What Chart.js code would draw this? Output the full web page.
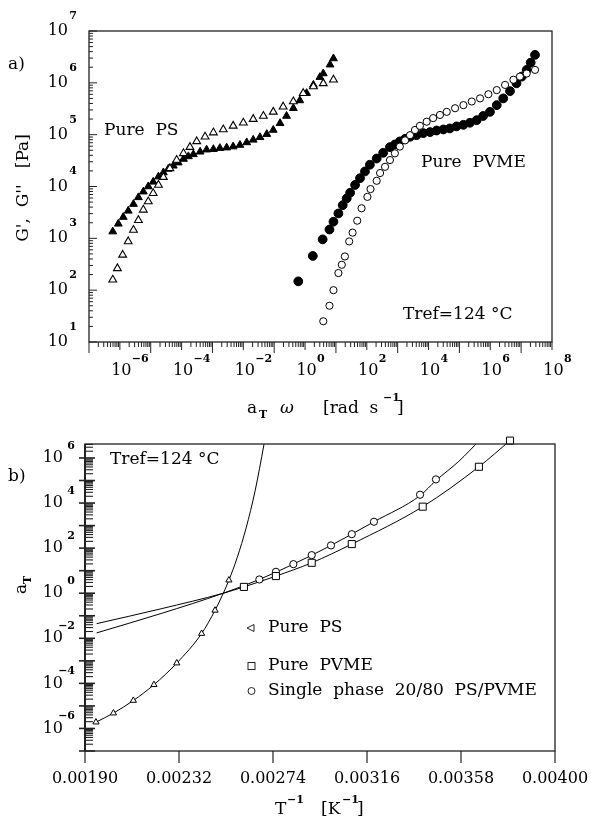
<!DOCTYPE html>
<html>
<head>
<meta charset="utf-8">
<script src="https://cdn.jsdelivr.net/npm/chart.js@4"></script>
<style>
body { margin: 0; background: #fff; }
canvas { display: block; }
</style>
</head>
<body>
<canvas id="chartA" width="591" height="430"></canvas>
<canvas id="chartB" width="591" height="393"></canvas>
<script>
var SERIF = "'DejaVu Serif', 'Liberation Serif', serif";

// ---- a) master curves, log10 values
// Pure PS, G' (filled triangles)
var psLogWp = [-6.23, -6.05, -5.89, -5.73, -5.56, -5.40, -5.24, -5.08, -4.92, -4.75, -4.59, -4.43, -4.27, -4.11, -3.94, -3.78, -3.62, -3.40, -3.19, -2.97, -2.76, -2.54, -2.33, -2.11, -1.89, -1.68, -1.46, -1.24, -1.03, -0.81, -0.60, -0.38, -0.17, 0.05, 0.27, 0.48, 0.59, 0.81, 0.92];
var psLogGp = [3.13, 3.28, 3.41, 3.53, 3.66, 3.79, 3.90, 4.00, 4.09, 4.19, 4.27, 4.34, 4.40, 4.46, 4.53, 4.58, 4.62, 4.67, 4.71, 4.72, 4.74, 4.75, 4.77, 4.80, 4.85, 4.90, 4.95, 5.01, 5.09, 5.22, 5.36, 5.51, 5.66, 5.80, 5.96, 6.11, 6.18, 6.35, 6.47];
// Pure PS, G'' (open triangles)
var psLogWpp = [-6.23, -6.08, -5.91, -5.73, -5.56, -5.40, -5.24, -5.08, -4.92, -4.75, -4.59, -4.38, -4.16, -3.94, -3.73, -3.51, -3.24, -2.97, -2.65, -2.33, -2.00, -1.68, -1.35, -1.03, -0.71, -0.38, -0.06, 0.27, 0.59, 0.92];
var psLogGpp = [2.20, 2.42, 2.68, 2.94, 3.16, 3.35, 3.55, 3.71, 3.87, 4.03, 4.18, 4.35, 4.51, 4.64, 4.76, 4.87, 4.96, 5.04, 5.10, 5.17, 5.23, 5.30, 5.36, 5.44, 5.54, 5.64, 5.80, 5.93, 5.99, 6.06];
// Pure PVME, G' (filled circles)
var pvLogWp = [-0.22, 0.25, 0.57, 0.79, 0.92, 1.08, 1.22, 1.35, 1.46, 1.62, 1.78, 1.94, 2.10, 2.32, 2.53, 2.75, 2.91, 3.07, 3.24, 3.40, 3.61, 3.83, 4.05, 4.26, 4.48, 4.69, 4.91, 5.13, 5.34, 5.56, 5.77, 5.99, 6.21, 6.42, 6.64, 6.85, 7.02, 7.18, 7.31, 7.45];
var pvLogGp = [2.17, 2.66, 2.98, 3.17, 3.32, 3.48, 3.64, 3.77, 3.88, 4.03, 4.16, 4.29, 4.42, 4.54, 4.65, 4.76, 4.81, 4.87, 4.92, 4.96, 4.99, 5.03, 5.05, 5.08, 5.10, 5.12, 5.16, 5.19, 5.23, 5.28, 5.36, 5.44, 5.57, 5.70, 5.84, 5.99, 6.12, 6.25, 6.39, 6.54];
// Pure PVME, G'' (open circles)
var pvLogWpp = [0.59, 0.79, 0.92, 1.08, 1.19, 1.29, 1.43, 1.54, 1.69, 1.83, 2.02, 2.12, 2.32, 2.43, 2.59, 2.75, 2.91, 3.07, 3.24, 3.40, 3.56, 3.72, 3.94, 4.15, 4.37, 4.59, 4.86, 5.13, 5.40, 5.67, 5.94, 6.21, 6.48, 6.75, 6.96, 7.18, 7.45];
var pvLogGpp = [1.40, 1.70, 2.00, 2.33, 2.49, 2.65, 2.94, 3.11, 3.34, 3.58, 3.80, 3.95, 4.11, 4.26, 4.38, 4.51, 4.64, 4.77, 4.89, 4.99, 5.09, 5.17, 5.25, 5.32, 5.38, 5.44, 5.51, 5.57, 5.64, 5.70, 5.78, 5.86, 5.96, 6.06, 6.12, 6.18, 6.25];

// ---- b) shift factors: 1/T [1/K] and log10 aT
var psInvT = [0.001949, 0.002027, 0.002116, 0.002208, 0.002310, 0.002421, 0.002481, 0.002543];
var psLogAT = [-5.72, -5.32, -4.76, -4.06, -3.10, -1.79, -0.76, 0.58];
var pvInvT = [0.002610, 0.002753, 0.002913, 0.003092, 0.003409, 0.003660, 0.003799];
var pvLogAT = [0.28, 0.76, 1.35, 2.18, 3.84, 5.61, 6.77];
var blInvT = [0.002679, 0.002753, 0.002831, 0.002913, 0.002999, 0.003092, 0.003191, 0.003397, 0.003468];
var blLogAT = [0.61, 0.95, 1.29, 1.69, 2.12, 2.62, 3.17, 4.37, 5.05];
// fitted curves
var psFitInvT = [0.001949, 0.002027, 0.002116, 0.002208, 0.002310, 0.002421, 0.002481, 0.002518, 0.002543, 0.002580, 0.002620, 0.002660, 0.002700, 0.002712];
var psFitLog = [-5.72, -5.32, -4.76, -4.06, -3.10, -1.79, -0.76, 0, 0.58, 1.58, 2.90, 4.54, 6.62, 7.3];
var pvFitInvT = [0.001952, 0.002240, 0.002518, 0.002610, 0.002753, 0.002913, 0.003092, 0.003409, 0.003660, 0.003799];
var pvFitLog = [-1.35, -0.69, 0, 0.28, 0.76, 1.35, 2.18, 3.84, 5.61, 6.77];
var blFitInvT = [0.001952, 0.002240, 0.002518, 0.002679, 0.002831, 0.002999, 0.003191, 0.003397, 0.003468, 0.003570, 0.003665];
var blFitLog = [-1.76, -0.90, 0, 0.61, 1.29, 2.12, 3.17, 4.33, 5.0, 5.85, 6.8];

var xTicksB = [0.00190, 0.00232, 0.00274, 0.00316, 0.00358, 0.00400];

function pts(xs, ys, logX) {
  return xs.map(function (x, i) {
    return { x: logX ? Math.pow(10, x) : x, y: Math.pow(10, ys[i]) };
  });
}

function line(ctx, x1, y1, x2, y2) {
  ctx.beginPath(); ctx.moveTo(x1, y1); ctx.lineTo(x2, y2); ctx.stroke();
}
function expText(e) { return e < 0 ? '\u2212' + (-e) : String(e); }
function txt(ctx, s, x, y, font, align) {
  ctx.font = font; ctx.textAlign = align || 'left'; ctx.textBaseline = 'middle';
  ctx.fillText(s, x, y);
}
var F = '17px ' + SERIF, FT = '16px ' + SERIF, FS = 'bold 11px ' + SERIF;

// ---- panel a) frame, ticks, labels
var frameA = {
  id: 'frameA',
  afterDraw: function (chart) {
    var ctx = chart.ctx, a = chart.chartArea, xs = chart.scales.x, ys = chart.scales.y;
    ctx.save();
    ctx.strokeStyle = '#222'; ctx.fillStyle = '#000'; ctx.lineWidth = 1.3;
    ctx.strokeRect(a.left, a.top, a.right - a.left, a.bottom - a.top);
    ctx.lineWidth = 1;
    for (var d = 1; d <= 7; d++) {
      for (var m = 1; m <= 9; m++) {
        if (d == 7 && m > 1) break;
        var py = ys.getPixelForValue(m * Math.pow(10, d));
        line(ctx, a.left, py, a.left + (m == 1 ? 8 : 4), py);
      }
      txt(ctx, '10', 68, ys.getPixelForValue(Math.pow(10, d)), FT, 'right');
      txt(ctx, expText(d), 77, ys.getPixelForValue(Math.pow(10, d)) - 15, FS, 'right');
    }
    for (d = -7; d <= 8; d++) {
      for (m = 1; m <= 9; m++) {
        if (d == 8 && m > 1) break;
        var px = xs.getPixelForValue(m * Math.pow(10, d));
        line(ctx, px, a.bottom, px, a.bottom + (m == 1 ? (d % 2 ? 11 : 8) : 5));
      }
      if (d % 2 == 0) {
        px = xs.getPixelForValue(Math.pow(10, d));
        txt(ctx, '10', px + 1.5, 371, FT, 'center');
        txt(ctx, expText(d), px + 12, 359, FS, 'left');
      }
    }
    // titles and notes
    txt(ctx, 'a)', 8, 65, F);
    txt(ctx, 'Pure  PS', 104, 131, F);
    txt(ctx, 'Pure  PVME', 421, 163, F);
    txt(ctx, 'Tref=124 \u00b0C', 403, 315, F);
    txt(ctx, 'a', 247, 409, F);
    txt(ctx, 'T', 259, 415, FS);
    txt(ctx, '\u03c9', 280, 409, 'italic 17px ' + SERIF);
    txt(ctx, '[rad  s', 323, 409, F);
    txt(ctx, '\u22121', 383, 398, FS);
    txt(ctx, ']', 397, 409, F);
    ctx.translate(24, 188); ctx.rotate(-Math.PI / 2);
    txt(ctx, "G',  G''   [Pa]", 0, 0, F, 'center');
    ctx.restore();
  }
};

// ---- panel b) frame, ticks, labels, legend
var frameB = {
  id: 'frameB',
  afterDraw: function (chart) {
    var ctx = chart.ctx, a = chart.chartArea, xs = chart.scales.x, ys = chart.scales.y;
    ctx.save();
    ctx.strokeStyle = '#222'; ctx.fillStyle = '#000'; ctx.lineWidth = 1.3;
    ctx.strokeRect(a.left, a.top, a.right - a.left, a.bottom - a.top);
    ctx.lineWidth = 2;
    line(ctx, a.left, a.top, a.left, a.bottom);
    for (var d = -7; d <= 6; d++) {
      for (var m = 1; m <= 9; m++) {
        var v = m * Math.pow(10, d);
        if (v > ys.max) break;
        var py = ys.getPixelForValue(v);
        ctx.lineWidth = m == 1 ? 1.6 : 1.1;
        if (m == 1) line(ctx, a.left - 6, py, a.left + 10, py);
        else line(ctx, a.left, py, a.left + 8, py);
      }
      if (d % 2 == 0) {
        py = ys.getPixelForValue(Math.pow(10, d));
        txt(ctx, '10', 63, py, FT, 'right');
        txt(ctx, expText(d), 75, py - 12, FS, 'right');
      }
    }
    ctx.lineWidth = 1.2;
    xTicksB.forEach(function (t) {
      var px = xs.getPixelForValue(t);
      line(ctx, px, a.bottom, px, a.bottom + 12);
      txt(ctx, t.toFixed(5), px, 349, FT, 'center');
    });
    txt(ctx, 'b)', 8, 47, F);
    txt(ctx, 'Tref=124 \u00b0C', 110, 30, F);
    // legend
    ctx.lineWidth = 1;
    ctx.beginPath(); ctx.moveTo(247, 198); ctx.lineTo(254, 194.5); ctx.lineTo(254, 201.5); ctx.closePath(); ctx.stroke();
    ctx.strokeRect(248, 232.5, 7, 7);
    ctx.beginPath(); ctx.arc(251.5, 261, 3.5, 0, 2 * Math.PI); ctx.stroke();
    txt(ctx, 'Pure  PS', 268, 198, F);
    txt(ctx, 'Pure  PVME', 268, 236, F);
    txt(ctx, 'Single  phase  20/80  PS/PVME', 268, 261, F);
    // axis titles
    txt(ctx, 'T', 275, 380, F);
    txt(ctx, '\u22121', 287, 370, FS);
    txt(ctx, '[K', 321, 380, F);
    txt(ctx, '\u22121', 342, 370, FS);
    txt(ctx, ']', 357, 380, F);
    ctx.translate(22, 155); ctx.rotate(-Math.PI / 2);
    txt(ctx, 'a', -9, 0, F);
    txt(ctx, 'T', 1, 6, FS);
    ctx.restore();
  }
};

var logAxis = function (min, max) {
  return { type: 'logarithmic', min: min, max: max, display: false };
};

new Chart(document.getElementById('chartA'), {
  type: 'scatter',
  data: {
    datasets: [
      { label: "PS G''", data: pts(psLogWpp, psLogGpp, true), pointStyle: 'triangle', pointRadius: 4.5,
        backgroundColor: '#fff', borderColor: '#000', borderWidth: 1.1 },
      { label: "PS G'", data: pts(psLogWp, psLogGp, true), pointStyle: 'triangle', pointRadius: 4.5,
        backgroundColor: '#000', borderColor: '#000', borderWidth: 1 },
      { label: "PVME G''", data: pts(pvLogWpp, pvLogGpp, true), pointStyle: 'circle', pointRadius: 3.6,
        backgroundColor: '#fff', borderColor: '#000', borderWidth: 1 },
      { label: "PVME G'", data: pts(pvLogWp, pvLogGp, true), pointStyle: 'circle', pointRadius: 4.4,
        backgroundColor: '#000', borderColor: '#000', borderWidth: 1 }
    ]
  },
  options: {
    responsive: false, animation: false,
    layout: { padding: { left: 89, top: 31, right: 39, bottom: 88 } },
    scales: { x: logAxis(1e-7, 1e8), y: logAxis(1e1, 1e7) },
    plugins: { legend: { display: false }, tooltip: { enabled: false } }
  },
  plugins: [frameA]
});

new Chart(document.getElementById('chartB'), {
  type: 'scatter',
  data: {
    datasets: [
      { label: 'Pure PS', data: pts(psInvT, psLogAT), pointStyle: 'triangle', pointRadius: 3.6,
        backgroundColor: '#fff', borderColor: '#000', borderWidth: 1, clip: false },
      { label: 'Pure PVME', data: pts(pvInvT, pvLogAT), pointStyle: 'rect', pointRadius: 5,
        backgroundColor: '#fff', borderColor: '#000', borderWidth: 1, clip: false },
      { label: 'Single phase 20/80 PS/PVME', data: pts(blInvT, blLogAT), pointStyle: 'circle', pointRadius: 3.6,
        backgroundColor: '#fff', borderColor: '#000', borderWidth: 1, clip: false },
      { label: 'PS fit', data: pts(psFitInvT, psFitLog), showLine: true, pointRadius: 0,
        borderColor: '#000', borderWidth: 1, cubicInterpolationMode: 'monotone' },
      { label: 'PVME fit', data: pts(pvFitInvT, pvFitLog), showLine: true, pointRadius: 0,
        borderColor: '#000', borderWidth: 1, cubicInterpolationMode: 'monotone' },
      { label: 'blend fit', data: pts(blFitInvT, blFitLog), showLine: true, pointRadius: 0,
        borderColor: '#000', borderWidth: 1, cubicInterpolationMode: 'monotone' }
    ]
  },
  options: {
    responsive: false, animation: false,
    layout: { padding: { left: 85, top: 14, right: 36, bottom: 72 } },
    scales: {
      x: { type: 'linear', min: 0.0019, max: 0.0040, display: false },
      y: logAxis(1e-7, Math.pow(10, 6.62))
    },
    plugins: { legend: { display: false }, tooltip: { enabled: false } }
  },
  plugins: [frameB]
});
</script>
</body>
</html>
